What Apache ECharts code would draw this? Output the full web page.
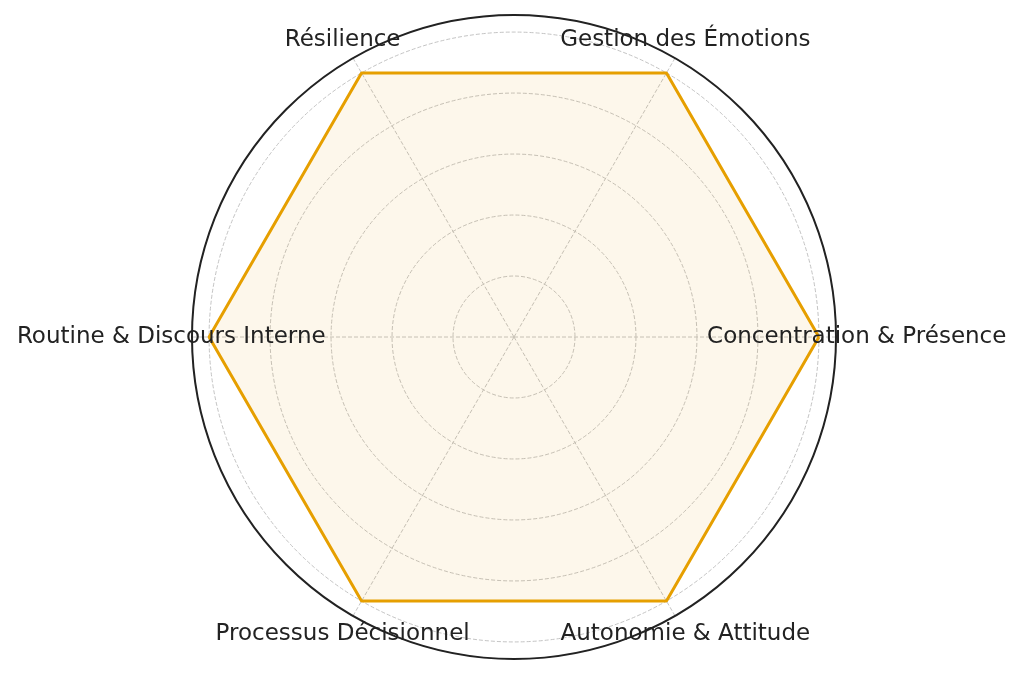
<!DOCTYPE html>
<html>
<head>
<meta charset="utf-8">
<script src="https://cdn.jsdelivr.net/npm/echarts@6/dist/echarts.min.js"></script>
<style>
  html, body { margin: 0; padding: 0; background: #fff; }
  #main { width: 1024px; height: 675px; }
</style>
</head>
<body>
<div id="main"></div>
<script>
// catégories (sens trigonométrique, en partant de l'est)
var categories = ['Concentration & Présence', 'Gestion des Émotions', 'Résilience',
                  'Routine & Discours Interne', 'Processus Décisionnel', 'Autonomie & Attitude'];
var scores = [5, 5, 5, 5, 5, 5];
var radiusTicks = [0, 1, 2, 3, 4, 5];
var radiusMax = 5.28;

var chartDom = document.getElementById('main');
var myChart = echarts.init(chartDom);
var step = 360 / categories.length;
var labelRadius = 5.62;

// polygone fermé : on répète le premier point à 360°
var lineData = scores.map(function (v, i) { return [v, i * step]; });
lineData.push([scores[0], 360]);

var labelData = categories.map(function (c, i) {
    return { name: c, value: [labelRadius, i * step] };
});

var option = {
    backgroundColor: '#ffffff',
    animation: false,
    polar: {
        center: [514, 337],
        radius: 322
    },
    angleAxis: {
        type: 'value',
        min: 0,
        max: 360,
        interval: step,
        startAngle: 0,
        clockwise: false,
        axisLine: { lineStyle: { color: '#222222', width: 2 } },
        axisTick: { show: false },
        axisLabel: { show: false },
        splitLine: { lineStyle: { color: '#c4c4c4', width: 1, type: [4, 2] } }
    },
    radiusAxis: {
        type: 'value',
        min: radiusTicks[0],
        max: radiusMax,
        interval: 1,
        axisLine: { show: false },
        axisTick: { show: false },
        axisLabel: { show: false },
        splitLine: { lineStyle: { color: '#c4c4c4', width: 1, type: [4, 2] } }
    },
    series: [
        {
            type: 'line',
            coordinateSystem: 'polar',
            data: lineData,
            symbol: 'none',
            lineStyle: { color: '#E69F00', width: 3 },
            areaStyle: { color: 'rgba(230, 159, 0, 0.11)' },
            z: 3
        },
        {
            type: 'scatter',
            coordinateSystem: 'polar',
            data: labelData,
            symbolSize: 0,
            clip: false,
            silent: true,
            itemStyle: { opacity: 1 },
            label: {
                show: true,
                position: 'inside',
                formatter: function (p) { return p.name; },
                color: '#222222',
                opacity: 1,
                fontFamily: 'DejaVu Sans',
                fontSize: 23
            },
            z: 5
        }
    ]
};
option && myChart.setOption(option);
</script>
</body>
</html>
